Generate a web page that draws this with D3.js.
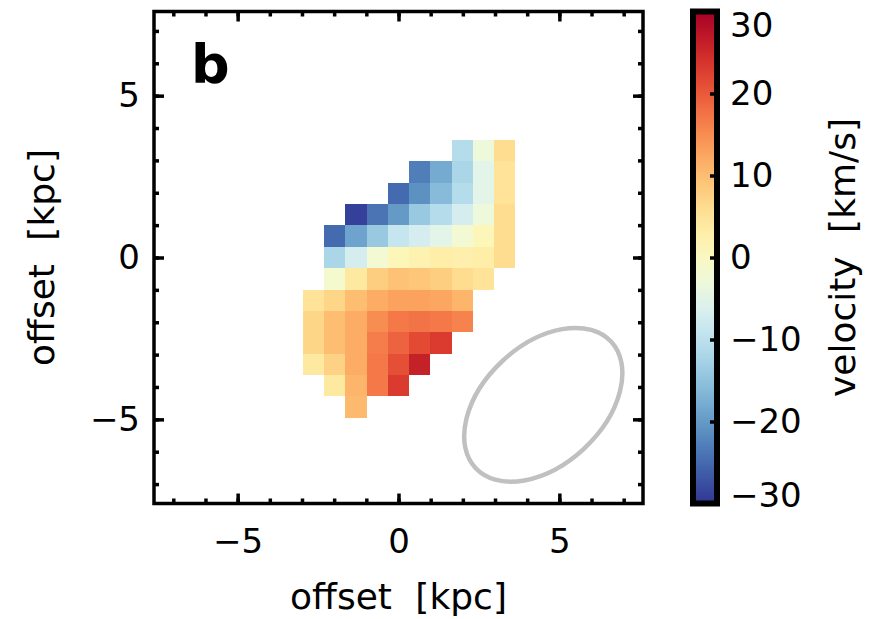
<!DOCTYPE html>
<html>
<head>
<meta charset="utf-8">
<script src="https://cdn.jsdelivr.net/npm/d3@7"></script>
<style>
  body { margin: 0; background: #fff; }
  text { font-family: "DejaVu Sans", sans-serif; fill: #000; }
</style>
</head>
<body>
<div class="canvas"></div>
<script>
// velocity map: one spaxel = 0.66 kpc, rows from top (j=5) to bottom (j=-7)
const pixelSize = 0.66;
const rowIndex = [5, 4, 3, 2, 1, 0, -1, -2, -3, -4, -5, -6, -7];
const rowStart = [3, 1, 0, -2, -3, -3, -3, -4, -4, -4, -4, -3, -2];
const rowVelocity = [
  [-11, -3, 6],
  [-23, -18, -12, -5, 5],
  [-25, -21, -16, -11, -5, 5],
  [-29, -24, -20, -14, -11, -7, -3, 6],
  [-25, -19, -14, -9, -7, -5, -2, 1, 6],
  [-12, -7, -2, 1, 2, 3, 2.5, 3, 6],
  [-1.5, 4, 8, 9.5, 9, 8, 6, 5],
  [5, 7, 10, 12, 13, 13, 12.5, 11],
  [7, 10, 12, 15, 17, 17.5, 17, 16],
  [7, 10, 12, 16.5, 19, 21.5, 23],
  [4, 7.5, 12, 17, 21, 26],
  [4, 11, 17, 23],
  [10.5],
];

const offsetRange = [-7.6, 7.6];
const majorTicks = [-5, 0, 5];
const minorTicks = d3.range(-7, 8);
const velocityRange = [-30, 30];
const colorTicks = [-30, -20, -10, 0, 10, 20, 30];
// beam ellipse: centre x, centre y, semi-major, semi-minor (kpc), angle (deg)
const beam = [4.5, -4.55, 2.88, 1.85, 43];

const box = { left: 154, right: 643, top: 11.5, bottom: 503.5 };
const bar = { left: 693, width: 24 };

const svg = d3
  .select(".canvas")
  .append("svg")
  .attr("width", 869)
  .attr("height", 619);

const x = d3.scaleLinear().domain(offsetRange).range([box.left, box.right]);
const y = d3.scaleLinear().domain(offsetRange).range([box.bottom, box.top]);

const color = d3
  .scaleSequential(d3.interpolateRdYlBu)
  .domain([velocityRange[1], velocityRange[0]]);

// flatten rows into cells
const cells = [];
rowIndex.forEach((j, r) => {
  rowVelocity[r].forEach((v, k) => {
    cells.push({ i: rowStart[r] + k, j: j, v: v });
  });
});

svg
  .append("g")
  .selectAll("rect")
  .data(cells)
  .enter()
  .append("rect")
  .attr("x", (d) => x((d.i - 0.5) * pixelSize))
  .attr("y", (d) => y((d.j + 0.5) * pixelSize))
  .attr("width", (d) => x((d.i + 0.5) * pixelSize) - x((d.i - 0.5) * pixelSize))
  .attr("height", (d) => y((d.j - 0.5) * pixelSize) - y((d.j + 0.5) * pixelSize))
  .attr("fill", (d) => color(d.v))
  .attr("shape-rendering", "crispEdges");

// beam
const bx = x(beam[0]);
const by = y(beam[1]);
svg
  .append("ellipse")
  .attr("cx", bx)
  .attr("cy", by)
  .attr("rx", x(beam[2]) - x(0))
  .attr("ry", y(0) - y(beam[3]))
  .attr("transform", `rotate(${-beam[4]}, ${bx}, ${by})`)
  .attr("fill", "none")
  .attr("stroke", "#c0c0c0")
  .attr("stroke-width", 4.5);

// axes, ticks pointing inwards on all four sides
const styleAxis = (g) => {
  g.select(".domain").remove();
  g.selectAll("line").attr("stroke", "#000").attr("stroke-width", 3.5);
  g.selectAll("text").attr("font-size", 34).attr("font-family", "DejaVu Sans");
};

const addAxis = (axis, transform) =>
  svg.append("g").attr("transform", transform).call(axis).call(styleAxis);

addAxis(d3.axisBottom(x).tickValues(minorTicks).tickSize(-5).tickFormat(""), `translate(0, ${box.bottom})`);
addAxis(d3.axisBottom(x).tickValues(majorTicks).tickSize(-10).tickPadding(25), `translate(0, ${box.bottom})`);
addAxis(d3.axisTop(x).tickValues(minorTicks).tickSize(-5).tickFormat(""), `translate(0, ${box.top})`);
addAxis(d3.axisTop(x).tickValues(majorTicks).tickSize(-10).tickFormat(""), `translate(0, ${box.top})`);
addAxis(d3.axisLeft(y).tickValues(minorTicks).tickSize(-5).tickFormat(""), `translate(${box.left}, 0)`);
addAxis(d3.axisLeft(y).tickValues(majorTicks).tickSize(-10).tickPadding(14), `translate(${box.left}, 0)`);
addAxis(d3.axisRight(y).tickValues(minorTicks).tickSize(-5).tickFormat(""), `translate(${box.right}, 0)`);
addAxis(d3.axisRight(y).tickValues(majorTicks).tickSize(-10).tickFormat(""), `translate(${box.right}, 0)`);

svg
  .append("rect")
  .attr("x", box.left)
  .attr("y", box.top)
  .attr("width", box.right - box.left)
  .attr("height", box.bottom - box.top)
  .attr("fill", "none")
  .attr("stroke", "#000")
  .attr("stroke-width", 3.5);

svg
  .append("text")
  .attr("x", 191)
  .attr("y", 83)
  .attr("font-size", 54)
  .attr("font-weight", "bold")
  .text("b");

svg
  .append("text")
  .attr("x", (box.left + box.right) / 2)
  .attr("y", 609)
  .attr("text-anchor", "middle")
  .attr("font-size", 36)
  .attr("word-spacing", 12)
  .text("offset [kpc]");

svg
  .append("text")
  .attr("transform", `translate(54, ${(box.top + box.bottom) / 2}) rotate(-90)`)
  .attr("text-anchor", "middle")
  .attr("font-size", 36)
  .attr("word-spacing", 12)
  .text("offset [kpc]");

// colour bar
const c = d3.scaleLinear().domain(velocityRange).range([box.bottom, box.top]);

const defs = svg.append("defs");
const grad = defs
  .append("linearGradient")
  .attr("id", "velgrad")
  .attr("x1", 0)
  .attr("y1", 1)
  .attr("x2", 0)
  .attr("y2", 0);

grad
  .selectAll("stop")
  .data(d3.range(0, 1.0001, 0.05))
  .enter()
  .append("stop")
  .attr("offset", (t) => t)
  .attr("stop-color", (t) => color(velocityRange[0] + t * (velocityRange[1] - velocityRange[0])));

svg
  .append("rect")
  .attr("x", bar.left)
  .attr("y", box.top)
  .attr("width", bar.width)
  .attr("height", box.bottom - box.top)
  .attr("fill", "url(#velgrad)")
  .attr("stroke", "#000")
  .attr("stroke-width", 6);

const barAxis = svg
  .append("g")
  .attr("transform", `translate(${bar.left + bar.width}, 0)`)
  .call(d3.axisRight(c).tickValues(colorTicks).tickSize(-7).tickPadding(13))
  .call(styleAxis);

// keep end labels inside the bar height
barAxis
  .selectAll("text")
  .attr("y", (d) => Math.max(26, Math.min(496, c(d))) - c(d));

svg
  .append("text")
  .attr("transform", `translate(855, ${(box.top + box.bottom) / 2}) rotate(-90)`)
  .attr("text-anchor", "middle")
  .attr("font-size", 36)
  .attr("word-spacing", 12)
  .text("velocity [km/s]");
</script>
</body>
</html>
